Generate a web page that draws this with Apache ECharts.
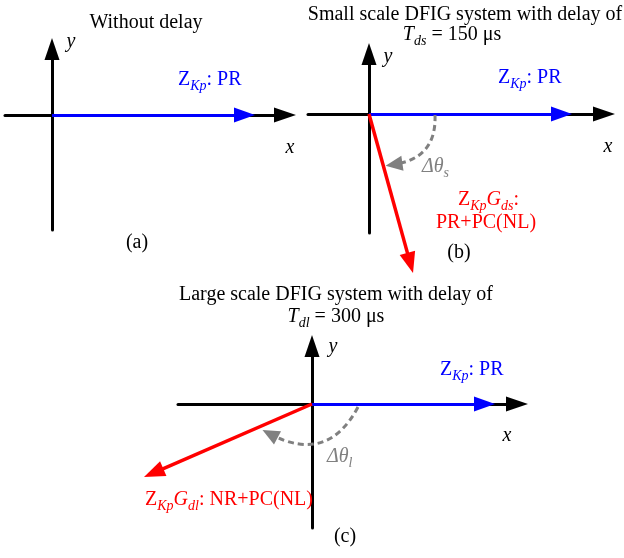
<!DOCTYPE html>
<html>
<head>
<meta charset="utf-8">
<script src="https://cdn.jsdelivr.net/npm/echarts@6/dist/echarts.min.js"></script>
<style>
  html, body { margin: 0; padding: 0; background: #ffffff; }
  #chart { width: 624px; height: 558px; }
</style>
</head>
<body>
<div id="chart"></div>
<script>
// Phasor diagrams of Z_Kp and Z_Kp*G_d. Each panel has its own cartesian
// system (1 unit = 1 px, origin where the axes cross, y pointing up).

// ---------- data ----------
const panelIds = ['(a)', '(b)', '(c)'];
const panelTitles = [
  ['Without delay'],
  ['Small scale DFIG system with delay of', '{i|T}{s|ds}{n| = 150 μs}'],
  ['Large scale DFIG system with delay of', '{i|T}{s|dl}{n| = 300 μs}']
];
const xExtents = [[-47, 233], [-61, 235], [-134, 205]];
const yExtents = [[-115, 66], [-119, 60], [-124, 58]];
// tip of the Z_Kp phasor (PR)
const zkpTips = [[203, 0], [203, 0], [183, 0]];
// tip of the delayed phasor Z_Kp*G_d
const delayedTips = [null, [44, -159], [-168, -73]];
// phase-lag arcs: start point and arrow-head centre
const lagFrom = [null, [66, -1], [46, -3]];
const lagTo = [null, [25, -50.5], [-42, -30]];
const lagBend = [0, 0.45, 0.5];
const zkpName = '{n|Z}{s|Kp}{n|: PR}';
const delayedNames = [
  null,
  ['{n|Z}{s|Kp}{i|G}{s|ds}{n|:}', 'PR+PC(NL)'],
  ['{n|Z}{s|Kp}{i|G}{s|dl}{n|: NR+PC(NL)}']
];
const lagNames = [null, '{i|Δθ}{s|s}', '{i|Δθ}{s|l}'];

// ---------- layout & style ----------
const serif = '"Liberation Serif", "Times New Roman", serif';
const BLACK = '#000000', BLUE = '#0000ff', RED = '#ff0000', GRAY = '#808080';
const grids = [
  { left: 5, top: 49, width: 280, height: 181 },
  { left: 308, top: 54, width: 296, height: 179 },
  { left: 178, top: 346, width: 339, height: 182 }
];
const rich = {
  n: { fontSize: 20, fontFamily: serif },
  i: { fontSize: 20, fontFamily: serif, fontStyle: 'italic' },
  s: { fontSize: 14, fontFamily: serif, fontStyle: 'italic', padding: [12, 0, 0, 0] }
};

// pull a straight arrow back by half its head so the head's tip lands on the tip
function headBase(tip, headLen) {
  const d = Math.hypot(tip[0], tip[1]);
  return [tip[0] - tip[0] / d * headLen / 2, tip[1] - tip[1] / d * headLen / 2];
}

function axisCfg(i, ext) {
  return {
    type: 'value', gridIndex: i, min: ext[0], max: ext[1],
    axisLine: {
      show: true, onZero: true,
      symbol: ['none', 'triangle'], symbolSize: [15, 22],
      lineStyle: { color: BLACK, width: 3 }
    },
    axisTick: { show: false }, axisLabel: { show: false }, splitLine: { show: false }
  };
}

function arrowSeries(i, from, to, color, width, head, opts) {
  return Object.assign({
    type: 'lines', coordinateSystem: 'cartesian2d',
    xAxisIndex: i, yAxisIndex: i, silent: true, clip: false,
    symbol: ['none', 'triangle'], symbolSize: [head, head],
    lineStyle: { color: color, width: width, opacity: 1 },
    data: [{ coords: [from, to] }]
  }, opts || {});
}

const series = [];
grids.forEach(function (g, i) {
  series.push(arrowSeries(i, [0, 0], headBase(zkpTips[i], 21), BLUE, 3, [15, 21], { z: 4 }));
  if (delayedTips[i]) {
    series.push(arrowSeries(i, [0, 0], headBase(delayedTips[i], 21), RED, 3.5, [16, 21], { z: 5 }));
    series.push(arrowSeries(i, lagFrom[i], lagTo[i], GRAY, 3, [15, 17], {
      z: 6,
      lineStyle: { color: GRAY, width: 3, opacity: 1, type: [6, 4], curveness: lagBend[i] }
    }));
  }
});

function txt(x, y, text, fill, align, extra) {
  return {
    type: 'text', x: x, y: y, silent: true, z: 10,
    style: Object.assign({
      text: text, fill: fill, fontSize: 20, fontFamily: serif,
      align: align, textAlign: align,
      verticalAlign: 'middle', textVerticalAlign: 'middle',
      rich: rich
    }, extra || {})
  };
}
const italic = { fontStyle: 'italic' };

const graphics = [
  // panel (a)
  txt(146, 23, panelTitles[0][0], BLACK, 'center'),
  txt(71, 42, 'y', BLACK, 'center', italic),
  txt(178, 80, zkpName, BLUE, 'left'),
  txt(290, 148, 'x', BLACK, 'center', italic),
  txt(137, 243, panelIds[0], BLACK, 'center'),
  // panel (b)
  txt(465, 15, panelTitles[1][0], BLACK, 'center'),
  txt(452, 35, panelTitles[1][1], BLACK, 'center'),
  txt(388, 57, 'y', BLACK, 'center', italic),
  txt(498, 78, zkpName, BLUE, 'left'),
  txt(608, 147, 'x', BLACK, 'center', italic),
  txt(422, 167, lagNames[1], GRAY, 'left'),
  txt(458, 200, delayedNames[1][0], RED, 'left'),
  txt(486, 223, delayedNames[1][1], RED, 'center'),
  txt(459, 253, panelIds[1], BLACK, 'center'),
  // panel (c)
  txt(336, 295, panelTitles[2][0], BLACK, 'center'),
  txt(336, 317, panelTitles[2][1], BLACK, 'center'),
  txt(333, 347, 'y', BLACK, 'center', italic),
  txt(440, 370, zkpName, BLUE, 'left'),
  txt(507, 436, 'x', BLACK, 'center', italic),
  txt(327, 457, lagNames[2], GRAY, 'left'),
  txt(145, 500, delayedNames[2][0], RED, 'left'),
  txt(345, 537, panelIds[2], BLACK, 'center')
];

const chart = echarts.init(document.getElementById('chart'), null, { renderer: 'canvas' });
chart.setOption({
  animation: false,
  backgroundColor: '#ffffff',
  grid: grids.map(function (g) { return Object.assign({ outerBoundsMode: 'none', containLabel: false }, g); }),
  xAxis: xExtents.map(function (e, i) { return axisCfg(i, e); }),
  yAxis: yExtents.map(function (e, i) { return axisCfg(i, e); }),
  series: series,
  graphic: graphics
});
</script>
</body>
</html>
